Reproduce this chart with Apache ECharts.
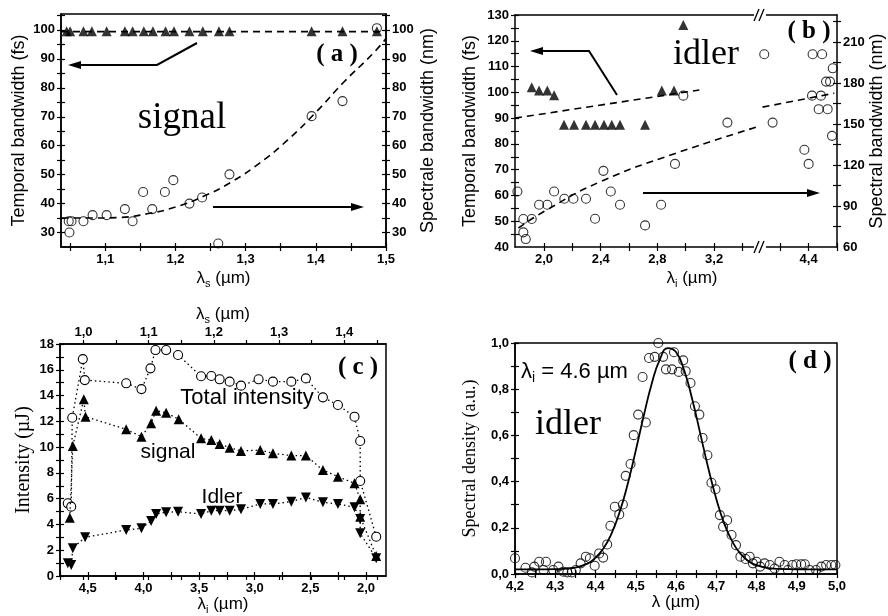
<!DOCTYPE html>
<html><head><meta charset="utf-8">
<script src="https://cdn.jsdelivr.net/npm/echarts@6/dist/echarts.min.js"></script>
<style>html,body{margin:0;padding:0;background:#fff}#c{width:888px;height:616px}</style>
</head><body><div id="c"></div>
<script>
// ---------- Panel (a) : signal ----------
const aTriX = [1.045,1.050,1.069,1.081,1.102,1.128,1.139,1.155,1.168,1.186,1.198,1.220,1.239,1.262,1.277,1.394,1.438,1.487];
const aTriY = [99.5,99.5,99.5,99.5,99.5,99.5,99.5,99.5,99.5,99.5,99.5,99.5,99.5,99.5,99.5,99.5,99.5,99.5];
const aCirX = [1.048,1.052,1.049,1.069,1.082,1.102,1.128,1.139,1.154,1.167,1.185,1.197,1.220,1.238,1.261,1.277,1.394,1.438,1.487];
const aCirY = [33.9,33.9,30.0,33.9,36.0,36.0,38.1,33.9,44.0,38.1,44.0,48.1,40.0,42.1,26.2,50.1,70.2,75.4,100.6];
const aFlatX = [1.037,1.5];
const aFlatY = [99.4,99.4];
const aFitX = [1.038,1.08,1.12,1.16,1.20,1.24,1.28,1.32,1.36,1.40,1.44,1.48,1.50];
const aFitY = [35.0,35.0,35.2,36.5,38.8,42.5,47.5,54.0,62.0,71.5,82.0,91.5,97.0];

// ---------- Panel (b) : idler ----------
const bTriX = [1.913,1.965,2.023,2.071,2.141,2.212,2.296,2.360,2.423,2.478,2.536,2.713,2.831,2.917,2.983];
const bTriY = [102.0,100.7,100.7,98.9,87.4,87.4,87.4,87.4,87.4,87.4,87.4,87.4,100.7,100.7,126.1];
const bCirX1 = [1.812,1.854,1.854,1.871,1.913,1.965,2.023,2.071,2.143,2.207,2.296,2.360,2.419,2.471,2.536,2.713,2.826,2.924,2.983,3.294];
const bCirY1 = [100.6,80.5,70.7,65.8,80.5,90.9,90.9,100.6,95.3,95.3,95.3,80.7,115.7,100.6,90.9,75.8,90.9,120.8,170.7,151.0];
const bCirX2 = [4.087,4.146,4.370,4.400,4.428,4.495,4.424,4.487,4.471,4.534,4.523,4.551,4.570,4.565];
const bCirY2 = [201.0,151.0,131.1,120.8,201.0,201.0,170.7,170.7,160.8,160.8,181.0,181.0,190.7,141.3];
const bFitTX = [1.795,3.096];
const bFitTY = [90.0,100.9];
const bFitSX1 = [1.819,2.02,2.40,2.92,3.50];
const bFitSY1 = [73.9,87.2,107.9,128.2,147.7];
const bFitSX2 = [4.075,4.581];
const bFitSY2 = [162.3,172.5];

// ---------- Panel (c) : intensities vs idler wavelength ----------
const cTotX = [4.680,4.649,4.640,4.545,4.527,4.155,4.018,3.937,3.892,3.796,3.689,3.482,3.390,3.315,3.225,3.123,2.965,2.836,2.671,2.540,2.387,2.252,2.103,2.052,2.052,1.908];
const cTotY = [5.64,5.38,12.28,16.83,15.20,14.95,14.50,16.11,17.53,17.53,17.15,15.50,15.52,15.26,15.08,14.77,15.26,15.08,15.08,15.33,13.86,13.27,12.36,10.47,7.37,3.05];
const cSigX = [4.662,4.635,4.536,4.521,4.155,4.018,3.931,3.886,3.796,3.683,3.482,3.390,3.315,3.225,3.123,2.950,2.836,2.671,2.540,2.387,2.252,2.103,2.052,2.052,1.908];
const cSigY = [4.52,10.09,13.71,12.36,11.38,10.81,11.85,12.83,12.67,12.16,10.68,10.55,10.24,9.96,9.70,9.77,9.52,9.34,9.34,8.22,7.71,7.19,5.95,4.60,1.55];
const cIdlX = [4.680,4.649,4.635,4.524,4.155,4.018,3.931,3.886,3.796,3.689,3.482,3.390,3.315,3.225,3.123,2.950,2.836,2.671,2.540,2.387,2.252,2.103,2.052,2.052,1.908];
const cIdlY = [0.98,0.85,2.15,3.00,3.57,3.70,4.27,4.81,4.94,4.99,4.81,5.07,5.07,5.07,5.17,5.59,5.59,5.77,6.10,5.72,5.59,5.33,4.42,3.31,1.37];

// ---------- Panel (d) : idler spectrum ----------
const dPtX = [4.200,4.226,4.242,4.248,4.260,4.271,4.277,4.295,4.308,4.320,4.330,4.341,4.351,4.363,4.376,4.386,4.398,4.409,4.419,4.429,4.437,4.448,4.459,4.468,4.475,4.487,4.495,4.506,4.517,4.525,4.533,4.547,4.556,4.568,4.575,4.590,4.595,4.607,4.618,4.624,4.636,4.647,4.658,4.666,4.678,4.688,4.698,4.709,4.717,4.727,4.738,4.749,4.760,4.773,4.783,4.791,4.800,4.809,4.820,4.833,4.845,4.857,4.870,4.878,4.889,4.899,4.911,4.920,4.932,4.948,4.961,4.973,4.986,4.996];
const dPtY = [0.068,0.027,0.007,0.032,0.053,0.017,0.053,0.017,0.032,0.010,0.007,0.007,0.017,0.046,0.075,0.068,0.036,0.089,0.071,0.128,0.209,0.291,0.258,0.301,0.425,0.476,0.601,0.690,0.853,0.656,0.935,0.940,1.000,0.940,0.886,0.886,0.960,0.875,0.925,0.878,0.827,0.726,0.690,0.589,0.514,0.395,0.367,0.255,0.205,0.233,0.169,0.125,0.075,0.065,0.075,0.046,0.053,0.032,0.046,0.039,0.024,0.053,0.039,0.017,0.039,0.042,0.042,0.042,0.017,0.017,0.032,0.039,0.039,0.039];
const dFitX = [4.20,4.25,4.30,4.35,4.38,4.40,4.42,4.44,4.46,4.48,4.50,4.52,4.54,4.56,4.58,4.60,4.62,4.64,4.66,4.68,4.70,4.72,4.74,4.76,4.78,4.80,4.85,4.90,5.00];
const dFitY = [0.020,0.020,0.021,0.028,0.045,0.070,0.111,0.176,0.268,0.390,0.534,0.686,0.826,0.929,0.978,0.961,0.883,0.759,0.610,0.460,0.326,0.218,0.140,0.088,0.056,0.038,0.022,0.020,0.020];

// ---------- tick labels ----------
const aXLabels = [1.1,1.2,1.3,1.4,1.5];
const aYLabels = [30,40,50,60,70,80,90,100];
const bXLabels1 = [2.0,2.4,2.8,3.2];
const bXLabels2 = [4.4];
const bYLLabels = [40,50,60,70,80,90,100,110,120,130];
const bYRLabels = [60,90,120,150,180,210];
const cXLabels = [2.0,2.5,3.0,3.5,4.0,4.5];
const cTopLabels = [1.0,1.1,1.2,1.3,1.4];
const cYLabels = [0,2,4,6,8,10,12,14,16,18];
const dXLabels = [4.2,4.3,4.4,4.5,4.6,4.7,4.8,4.9,5.0];
const dYLabels = [0.0,0.2,0.4,0.6,0.8,1.0];

// ---------- helpers ----------
function steps(a, b, s) { const r = []; for (let v = a; v <= b + 1e-9; v += s) r.push(Math.round(v * 1000) / 1000); return r; }
function zip(xs, ys) { return xs.map((x, i) => [x, ys[i]]); }
const fmt1 = v => (Math.round(v * 10) / 10).toFixed(1).replace('.', ',');
const fmt0 = v => String(Math.round(v));
const K = '#000';
const tickFont = { fontFamily: 'Liberation Sans', fontWeight: 'bold', fontSize: 13, color: K };
const sans = { fontFamily: 'Liberation Sans', fontSize: 17, color: K };
const serif = { fontFamily: 'Liberation Serif', fontSize: 17, color: K };
function subStyle(fam, size) {
  return Object.assign({}, fam, { fontSize: size, rich: {
    t: { fontFamily: fam.fontFamily, fontSize: size, lineHeight: size + 4, color: K },
    s: { fontFamily: fam.fontFamily, fontSize: Math.round(size * 0.65), lineHeight: 8, verticalAlign: 'bottom', color: K }
  }});
}

const xAxes = [], yAxes = [];
function axis(list, o) {
  const base = { type: 'value', gridIndex: o.grid, position: o.pos, min: o.min, max: o.max,
    inverse: !!o.inverse, splitLine: { show: false }, silent: true };
  if (o.hidden) { list.push(Object.assign({}, base, { show: false })); return list.length - 1; }
  list.push(Object.assign({}, base, {
    axisLine: { show: true, onZero: false, lineStyle: { color: K, width: 1.5 } },
    axisTick: o.ticks ? { show: true, inside: false, length: 4, customValues: o.ticks, lineStyle: { color: K, width: 1.2 } } : { show: false },
    axisLabel: o.labels ? Object.assign({ show: true, customValues: o.labels, formatter: o.fmt, margin: o.margin || 6 }, tickFont) : { show: false },
    name: o.name || '', nameLocation: 'middle', nameGap: o.gap || 20, nameTextStyle: o.nameStyle || sans,
    nameMoveOverlap: false
  }));
  const idx = list.length - 1;
  if (o.ticks) list.push(Object.assign({}, base, {
    axisLine: { show: false }, axisLabel: { show: false },
    axisTick: { show: true, inside: true, length: 4, customValues: o.ticks, lineStyle: { color: K, width: 1.2 } }
  }));
  return idx;
}

// grids: 0=a, 1=b(left part), 2=b(right part), 3=c, 4=d
const frame = { show: true, borderColor: K, borderWidth: 1.5, backgroundColor: 'transparent' };
const grids = [
  Object.assign({ left: 61, top: 14, width: 325, height: 233 }, frame),
  { left: 515, top: 15, width: 245, height: 232 },
  { left: 760, top: 15, width: 77, height: 232 },
  Object.assign({ left: 60, top: 344, width: 326, height: 232 }, frame),
  Object.assign({ left: 515, top: 343, width: 322, height: 231 }, frame)
];

// panel a axes
const xa = axis(xAxes, { grid: 0, pos: 'bottom', min: 1.037, max: 1.5, ticks: steps(1.05, 1.5, 0.05), labels: aXLabels, fmt: fmt1,
  name: '{t|λ}{s|s}{t| (µm)}', gap: 21, nameStyle: subStyle(sans, 17) });
const yaL = axis(yAxes, { grid: 0, pos: 'left', min: 25, max: 105.5, ticks: steps(30, 105, 5), labels: aYLabels, fmt: fmt0,
  name: 'Temporal bandwidth (fs)', gap: 33, nameStyle: Object.assign({}, sans, { fontSize: 18 }) });
const yaR = axis(yAxes, { grid: 0, pos: 'right', min: 25, max: 105.5, ticks: steps(30, 105, 5), labels: aYLabels, fmt: fmt0,
  name: 'Spectrale bandwidth (nm)', gap: 33, nameStyle: Object.assign({}, sans, { fontSize: 18 }) });

// panel b axes
const xb1 = axis(xAxes, { grid: 1, pos: 'bottom', min: 1.795, max: 3.524, ticks: steps(2.0, 3.4, 0.2), labels: bXLabels1, fmt: fmt1,
  name: '{t|λ}{s|i}{t| (µm)}', gap: 21, nameStyle: Object.assign(subStyle(sans, 17), { padding: [0, 0, 0, 109] }) });
axis(xAxes, { grid: 1, pos: 'top', min: 1.795, max: 3.524 });
const xb2 = axis(xAxes, { grid: 2, pos: 'bottom', min: 4.057, max: 4.6, ticks: [4.2, 4.4, 4.6], labels: bXLabels2, fmt: fmt1 });
axis(xAxes, { grid: 2, pos: 'top', min: 4.057, max: 4.6 });
const ybL = axis(yAxes, { grid: 1, pos: 'left', min: 40, max: 130, ticks: steps(45, 130, 5), labels: bYLLabels, fmt: fmt0,
  name: 'Temporal bandwidth (fs)', gap: 36, nameStyle: Object.assign({}, sans, { fontSize: 18 }) });
const ybRh = axis(yAxes, { grid: 1, pos: 'right', min: 60, max: 229.7, hidden: true });
const ybR = axis(yAxes, { grid: 2, pos: 'right', min: 60, max: 229.7, ticks: steps(75, 225, 15), labels: bYRLabels, fmt: fmt0,
  name: 'Spectral bandwidth (nm)', gap: 31, nameStyle: Object.assign({}, sans, { fontSize: 18 }) });

// panel c axes
const xc = axis(xAxes, { grid: 3, pos: 'bottom', min: 1.82, max: 4.75, inverse: true, ticks: steps(2.0, 4.75, 0.25), labels: cXLabels, fmt: fmt1,
  name: '{t|λ}{s|i}{t| (µm)}', gap: 18, nameStyle: subStyle(sans, 17) });
axis(xAxes, { grid: 3, pos: 'top', min: 0.964, max: 1.464, ticks: steps(1.0, 1.45, 0.05), labels: cTopLabels, fmt: fmt1, margin: 5,
  name: '{t|λ}{s|s}{t| (µm)}', gap: 19, nameStyle: subStyle(sans, 17) });
const yc = axis(yAxes, { grid: 3, pos: 'left', min: 0, max: 18, ticks: steps(0, 18, 1), labels: cYLabels, fmt: fmt0,
  name: 'Intensity (µJ)', gap: 26, nameStyle: Object.assign({}, serif, { fontSize: 20 }) });

// panel d axes
const xd = axis(xAxes, { grid: 4, pos: 'bottom', min: 4.2, max: 5.0, ticks: steps(4.2, 5.0, 0.05), labels: dXLabels, fmt: fmt1,
  name: 'λ (µm)', gap: 20, nameStyle: sans });
const yd = axis(yAxes, { grid: 4, pos: 'left', min: 0, max: 1.0, ticks: steps(0, 1.0, 0.1), labels: dYLabels, fmt: fmt1,
  name: 'Spectral density (a.u.)', gap: 36, nameStyle: Object.assign({}, serif, { fontSize: 18 }) });

// ---------- series ----------
const tri = sz => ({ symbol: 'triangle', symbolSize: sz, itemStyle: { color: K } });
const circ = (sz, fill) => ({ symbol: 'circle', symbolSize: sz, itemStyle: { color: fill, borderColor: K, borderWidth: 1.1 } });
const dash = { type: 'line', symbol: 'none', lineStyle: { color: K, width: 1.6, type: [7, 5] }, silent: true };
const dotted = { color: K, width: 1.3, type: [1.5, 3] };

const series = [
  Object.assign({ type: 'scatter', xAxisIndex: xa, yAxisIndex: yaL, data: zip(aTriX, aTriY), z: 4 }, tri(10)),
  Object.assign({}, dash, { xAxisIndex: xa, yAxisIndex: yaL, data: zip(aFlatX, aFlatY) }),
  Object.assign({ type: 'scatter', xAxisIndex: xa, yAxisIndex: yaR, data: zip(aCirX, aCirY), z: 3 }, circ(9, 'rgba(0,0,0,0)')),
  Object.assign({}, dash, { xAxisIndex: xa, yAxisIndex: yaR, smooth: true, data: zip(aFitX, aFitY) }),

  Object.assign({ type: 'scatter', xAxisIndex: xb1, yAxisIndex: ybL, data: zip(bTriX, bTriY), z: 4 }, tri(10)),
  Object.assign({ type: 'scatter', xAxisIndex: xb1, yAxisIndex: ybRh, data: zip(bCirX1, bCirY1), z: 3 }, circ(9, 'rgba(0,0,0,0)')),
  Object.assign({ type: 'scatter', xAxisIndex: xb2, yAxisIndex: ybR, data: zip(bCirX2, bCirY2), z: 3, clip: true }, circ(9, 'rgba(0,0,0,0)')),
  Object.assign({}, dash, { xAxisIndex: xb1, yAxisIndex: ybL, data: zip(bFitTX, bFitTY) }),
  Object.assign({}, dash, { xAxisIndex: xb1, yAxisIndex: ybRh, smooth: true, data: zip(bFitSX1, bFitSY1) }),
  Object.assign({}, dash, { xAxisIndex: xb2, yAxisIndex: ybR, data: zip(bFitSX2, bFitSY2) }),

  Object.assign({ type: 'line', xAxisIndex: xc, yAxisIndex: yc, data: zip(cTotX, cTotY), z: 3, lineStyle: dotted }, circ(9, '#fff')),
  Object.assign({ type: 'line', xAxisIndex: xc, yAxisIndex: yc, data: zip(cSigX, cSigY), z: 4, lineStyle: dotted }, tri(10)),
  Object.assign({ type: 'line', xAxisIndex: xc, yAxisIndex: yc, data: zip(cIdlX, cIdlY), z: 4, symbolRotate: 180, lineStyle: dotted }, tri(10)),

  Object.assign({ type: 'scatter', xAxisIndex: xd, yAxisIndex: yd, data: zip(dPtX, dPtY), z: 3 }, circ(9, 'rgba(0,0,0,0)')),
  { type: 'line', xAxisIndex: xd, yAxisIndex: yd, data: zip(dFitX, dFitY), smooth: true, symbol: 'none', z: 4,
    lineStyle: { color: K, width: 1.8 } }
];

// ---------- annotations ----------
function txt(x, y, text, font, extra) {
  return { type: 'text', x: x, y: y, z: 50, style: Object.assign({ text: text, font: font, fill: K, align: 'center', verticalAlign: 'middle' }, extra || {}) };
}
function arrowLine(points, tip, dir) {
  const [tx, ty] = tip;
  return [
    { type: 'polyline', z: 50, shape: { points: points }, style: { stroke: K, lineWidth: 2, fill: null } },
    { type: 'polygon', z: 50, shape: { points: [[tx, ty], [tx + dir * 13, ty - 4], [tx + dir * 13, ty + 4]] }, style: { fill: K } }
  ];
}
function breakMark(x, y) {
  return [
    { type: 'rect', z: 60, shape: { x: x - 6, y: y - 3, width: 12, height: 6 }, style: { fill: '#fff' } },
    { type: 'line', z: 61, shape: { x1: x - 6, y1: y + 6, x2: x - 1, y2: y - 6 }, style: { stroke: K, lineWidth: 1.3 } },
    { type: 'line', z: 61, shape: { x1: x - 1, y1: y + 6, x2: x + 4, y2: y - 6 }, style: { stroke: K, lineWidth: 1.3 } }
  ];
}
const graphics = [
  txt(337, 55, '( a )', 'bold 25px "Liberation Serif"'),
  txt(182, 118, 'signal', '37px "Liberation Serif"'),
  txt(809, 32, '( b )', 'bold 25px "Liberation Serif"'),
  txt(706, 55, 'idler', '36px "Liberation Serif"'),
  txt(358, 368, '( c )', 'bold 25px "Liberation Serif"'),
  txt(247, 398, 'Total intensity', '22px "Liberation Sans"'),
  txt(168, 452, 'signal', '21px "Liberation Sans"'),
  txt(222, 497, 'Idler', '21px "Liberation Sans"'),
  txt(810, 362, '( d )', 'bold 25px "Liberation Serif"'),
  txt(521, 372, '{t|λ}{s|i}{t| = 4.6 µm}', '22px "Liberation Sans"', { align: 'left', rich: {
    t: { fontFamily: 'Liberation Sans', fontSize: 22, lineHeight: 26, fill: K },
    s: { fontFamily: 'Liberation Sans', fontSize: 14, lineHeight: 9, verticalAlign: 'bottom', fill: K } } }),
  txt(568, 425, 'idler', '36px "Liberation Serif"'),
  ...arrowLine([[197, 43], [157, 65], [80, 65]], [68, 65], 1),
  ...arrowLine([[213, 207], [352, 207]], [364, 207], -1),
  ...arrowLine([[617, 95], [589, 51], [542, 51]], [530, 51], 1),
  ...arrowLine([[643, 193], [808, 193]], [820, 193], -1),
  ...breakMark(760, 15),
  ...breakMark(760, 247)
];

const chart = echarts.init(document.getElementById('c'), null, { renderer: 'canvas' });
chart.setOption({
  animation: false,
  backgroundColor: '#fff',
  grid: grids,
  xAxis: xAxes,
  yAxis: yAxes,
  series: series,
  graphic: { elements: graphics }
});
</script></body></html>
